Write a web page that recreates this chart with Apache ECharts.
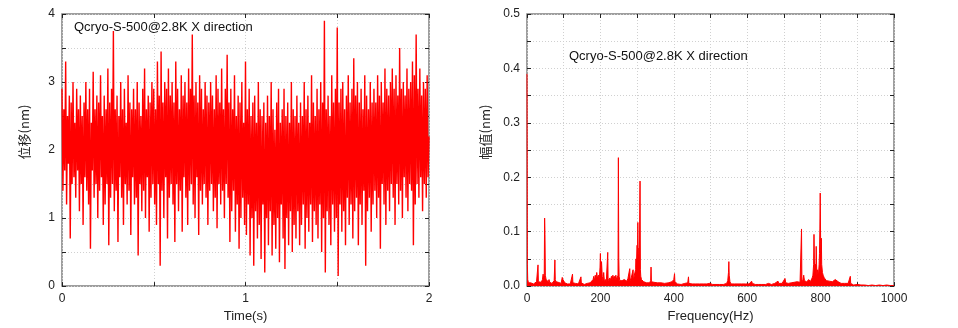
<!DOCTYPE html>
<html><head><meta charset="utf-8">
<script src="https://cdn.jsdelivr.net/npm/echarts@6/dist/echarts.min.js"></script>
<style>html,body{margin:0;padding:0;background:#fff}#c{width:958px;height:328px}</style>
</head><body><div id="c"></div>
<script>
// ---- data ----
const chartTitle = 'Qcryo-S-500@2.8K X direction';
const timeStep = 0.005; // seconds between samples
const displacement = [
2.9,1.4,2.6,1.7,3.3,1.2,2.5,1.8,2.8,0.7,2.7,1.5,3.0,1.6,2.4,1.3,2.9,1.7,2.6,1.1,
2.8,1.5,2.5,0.9,2.7,1.6,3.0,1.4,2.6,1.2,2.9,0.55,2.4,1.7,3.15,1.3,2.6,1.5,2.8,1.0,
2.7,1.4,3.1,1.6,2.5,0.9,2.8,1.2,2.6,1.5,3.2,0.6,2.7,1.3,2.9,1.5,3.75,1.1,2.6,1.4,
2.8,0.65,2.5,1.6,3.0,1.3,2.6,0.9,2.9,1.5,2.4,1.2,3.1,1.4,2.7,0.75,2.6,1.6,2.9,1.2,
2.6,1.3,3.0,0.45,2.7,1.5,2.5,1.1,2.9,1.4,3.2,1.0,2.6,1.6,2.8,0.8,2.7,1.3,3.0,1.5,
2.9,1.2,2.6,0.9,3.3,1.5,2.8,0.3,3.45,1.4,2.7,1.0,3.0,1.6,2.9,0.7,3.2,1.3,2.8,1.5,
3.0,1.2,2.7,0.65,3.3,1.5,2.9,1.1,2.6,1.4,3.1,0.8,2.8,1.6,3.0,1.3,2.7,0.9,3.2,1.4,
2.9,1.5,3.7,1.2,2.8,1.0,3.0,1.6,2.7,0.75,3.1,1.4,2.9,1.2,2.6,1.5,3.0,1.3,2.8,0.9,
2.7,1.4,3.0,1.5,2.8,1.1,2.6,1.3,3.1,0.85,2.9,1.5,2.7,1.2,3.2,1.4,2.6,1.0,2.9,1.5,
3.4,1.3,2.7,0.65,2.9,1.1,2.6,1.4,3.1,0.8,2.5,1.2,2.8,0.55,2.7,1.0,3.0,1.3,2.4,0.9,
3.3,0.75,2.6,1.2,2.9,0.45,2.5,1.0,2.7,0.3,2.8,1.1,2.4,0.7,3.0,0.9,2.6,0.4,2.5,1.2,
2.7,0.2,2.4,1.0,2.8,0.6,2.5,1.1,3.0,0.45,2.6,0.9,2.3,0.55,2.7,1.0,2.9,0.35,2.4,1.2,
2.6,0.7,2.9,0.25,2.5,1.0,2.7,0.6,2.4,1.1,3.0,0.5,2.6,0.9,2.5,0.7,2.8,1.1,2.4,0.6,
2.7,0.9,2.5,1.2,3.0,0.55,2.6,1.0,2.8,0.8,2.4,1.2,3.1,0.65,2.7,1.1,2.5,0.9,2.9,0.7,
2.6,1.2,3.0,0.5,2.7,1.0,3.9,0.2,2.6,1.1,2.8,0.9,2.5,0.6,3.1,1.2,2.7,0.8,2.9,1.0,
3.8,0.15,2.7,1.2,2.9,0.8,3.0,1.1,2.6,0.6,2.8,1.3,3.1,0.9,2.7,1.2,2.9,0.7,3.35,1.1,
2.8,1.3,3.0,0.6,2.7,1.2,2.9,0.9,2.6,1.4,3.1,0.3,2.8,1.1,2.6,1.3,3.0,0.8,2.7,1.2,
2.9,1.4,2.7,1.0,3.1,1.3,2.8,0.55,3.0,1.5,2.7,1.2,3.2,0.9,2.9,1.4,2.8,1.1,3.0,1.5,
3.2,1.3,2.9,0.9,3.1,1.5,2.8,1.2,3.5,1.4,2.9,1.0,3.0,1.6,2.8,1.3,3.2,1.1,2.9,1.5,
3.0,1.4,3.3,0.6,3.1,1.2,3.7,1.5,2.9,1.3,3.2,1.6,2.8,1.1,3.0,1.5,2.9,1.3,3.1,1.6,2.2
];
const spectrum = [
[0,0.39],[1,0.04],[2,0.012],[4,0.006],[6,0.008],[8,0.004],[10,0.006],[12,0.005],[15,0.007],[18,0.004],[20,0.006],[23,0.005],[26,0.008],[28,0.006],[30,0.039],[31,0.008],[33,0.006],[36,0.009],[39,0.007],[42,0.012],[44,0.022],[45,0.015],[47,0.02],[48,0.125],[49,0.095],[50,0.02],[52,0.012],[54,0.015],[56,0.01],[58,0.008],[60,0.012],[62,0.007],[65,0.006],[68,0.005],[70,0.007],[72,0.006],[74,0.01],[76,0.048],[77,0.012],[79,0.008],[82,0.006],[85,0.007],[88,0.005],[90,0.006],[93,0.005],[95,0.008],[96,0.016],[98,0.012],[100,0.01],[103,0.006],[106,0.005],[110,0.004],[114,0.005],[118,0.004],[121,0.006],[124,0.022],[125,0.006],[128,0.004],[132,0.005],[136,0.003],[140,0.004],[144,0.005],[147,0.017],[148,0.006],[152,0.004],[156,0.003],[160,0.004],[164,0.005],[168,0.004],[172,0.006],[176,0.008],[180,0.012],[182,0.018],[184,0.01],[186,0.02],[188,0.014],[190,0.025],[192,0.015],[195,0.02],[197,0.012],[199,0.035],[200,0.06],[201,0.02],[203,0.045],[205,0.018],[207,0.01],[209,0.025],[211,0.008],[214,0.012],[216,0.007],[218,0.01],[220,0.062],[221,0.01],[223,0.012],[226,0.015],[228,0.01],[230,0.018],[232,0.012],[234,0.02],[236,0.013],[238,0.018],[240,0.011],[242,0.02],[244,0.012],[246,0.014],[248,0.02],[249,0.236],[250,0.053],[251,0.018],[253,0.01],[256,0.008],[259,0.01],[262,0.007],[265,0.012],[268,0.01],[270,0.015],[272,0.009],[275,0.014],[278,0.012],[280,0.032],[281,0.01],[284,0.015],[287,0.012],[289,0.03],[290,0.01],[292,0.018],[294,0.025],[296,0.03],[297,0.05],[298,0.035],[300,0.075],[301,0.05],[302,0.117],[303,0.06],[304,0.045],[305,0.07],[306,0.04],[308,0.193],[309,0.03],[310,0.018],[312,0.012],[315,0.01],[318,0.008],[322,0.007],[326,0.006],[330,0.008],[334,0.006],[337,0.01],[338,0.035],[339,0.008],[342,0.006],[346,0.007],[350,0.005],[355,0.006],[360,0.004],[365,0.006],[370,0.004],[375,0.005],[380,0.004],[385,0.006],[390,0.005],[395,0.008],[398,0.01],[400,0.012],[402,0.023],[403,0.008],[406,0.005],[410,0.004],[415,0.005],[420,0.003],[425,0.004],[430,0.005],[435,0.004],[438,0.006],[440,0.017],[441,0.005],[445,0.003],[450,0.004],[455,0.003],[460,0.004],[465,0.003],[470,0.004],[475,0.003],[480,0.004],[485,0.003],[490,0.004],[495,0.003],[498,0.005],[500,0.007],[502,0.004],[506,0.003],[510,0.004],[515,0.003],[520,0.004],[525,0.003],[530,0.004],[535,0.003],[540,0.004],[544,0.005],[547,0.01],[549,0.025],[550,0.045],[551,0.02],[553,0.008],[556,0.004],[560,0.003],[565,0.004],[570,0.003],[575,0.004],[580,0.003],[585,0.004],[590,0.003],[595,0.004],[600,0.003],[605,0.004],[610,0.006],[612,0.009],[614,0.005],[618,0.004],[622,0.003],[626,0.004],[630,0.003],[635,0.004],[640,0.003],[645,0.004],[650,0.003],[655,0.004],[658,0.005],[660,0.007],[662,0.004],[666,0.003],[670,0.004],[675,0.005],[680,0.004],[684,0.009],[686,0.005],[690,0.004],[695,0.005],[700,0.006],[703,0.014],[705,0.006],[708,0.004],[712,0.005],[716,0.004],[720,0.006],[724,0.005],[728,0.007],[732,0.005],[736,0.008],[740,0.006],[744,0.007],[746,0.009],[748,0.105],[749,0.012],[751,0.008],[754,0.02],[756,0.01],[758,0.007],[762,0.008],[765,0.006],[768,0.012],[770,0.013],[772,0.008],[775,0.01],[777,0.015],[779,0.02],[781,0.04],[782,0.095],[783,0.05],[784,0.03],[786,0.04],[787,0.025],[788,0.073],[789,0.04],[790,0.02],[792,0.03],[794,0.018],[796,0.04],[797,0.06],[798,0.105],[799,0.171],[800,0.088],[801,0.06],[802,0.088],[803,0.04],[805,0.025],[807,0.02],[810,0.015],[813,0.012],[816,0.01],[820,0.012],[824,0.009],[828,0.01],[832,0.008],[836,0.01],[840,0.012],[844,0.01],[848,0.008],[852,0.006],[856,0.005],[860,0.004],[865,0.005],[870,0.004],[875,0.005],[879,0.006],[881,0.018],[882,0.005],[886,0.003],[890,0.002],[900,0.003],[910,0.002],[920,0.002],[930,0.001],[940,0.002],[950,0.001],[960,0.002],[970,0.001],[980,0.002],[990,0.001],[1000,0.001]
];
const leftXName = 'Time(s)', leftYName = '位移(nm)';
const rightXName = 'Frequency(Hz)', rightYName = '幅值(nm)';

// ---- chart ----
const timeSeries = displacement.map((v, i) => [i * timeStep, v]);
const font = 'Liberation Sans, Arial, sans-serif';
const cjk = 'Noto Sans CJK SC, sans-serif';
const frame = '#7f7f7f';
function axisPair(gridIndex, min, max, interval, name, nameGap, fmt, isY) {
  const tick = {show: true, inside: true, length: 4, lineStyle: {color: '#222', width: 1}};
  const minor = {show: true, splitNumber: 2, length: 4, lineStyle: {color: '#222', width: 1}};
  const main = {
    type: 'value', gridIndex, min, max, interval,
    position: isY ? 'left' : 'bottom',
    name, nameLocation: 'middle', nameGap,
    nameTextStyle: isY
      ? {fontFamily: cjk, fontSize: 13, color: '#222', padding: [0, 0, 0, 36]}
      : {fontFamily: font, fontSize: 13, color: '#222'},
    axisLine: {show: false, onZero: false},
    axisTick: tick,
    minorTick: minor,
    axisLabel: {fontFamily: font, fontSize: 12, color: '#222', margin: 7, formatter: fmt},
    splitLine: {show: true, lineStyle: {color: '#d0d0d0', type: [1, 2], width: 1}},
    minorSplitLine: {show: true, lineStyle: {color: '#d0d0d0', type: [1, 2], width: 1}}
  };
  const mirror = {
    type: 'value', gridIndex, min, max, interval,
    position: isY ? 'right' : 'top',
    axisLine: {show: false, onZero: false},
    axisTick: tick, minorTick: minor,
    axisLabel: {show: false}, splitLine: {show: false}
  };
  return [main, mirror];
}
const chart = echarts.init(document.getElementById('c'), null, {renderer: 'canvas'});
const lx = axisPair(0, 0, 2, 1, leftXName, 23, v => String(v), false);
const ly = axisPair(0, 0, 4, 1, leftYName, 31, v => String(v), true);
const rx = axisPair(1, 0, 1000, 200, rightXName, 23, v => String(v), false);
const ry = axisPair(1, 0, 0.5, 0.1, rightYName, 35, v => v.toFixed(1), true);
chart.setOption({
  animation: false,
  backgroundColor: '#fff',
  grid: [
    {left: 62, right: 529, top: 14, bottom: 41, show: true, borderColor: frame, borderWidth: 1.5, backgroundColor: 'transparent', z: 0},
    {left: 527, right: 64, top: 14, bottom: 41, show: true, borderColor: frame, borderWidth: 1.5, backgroundColor: 'transparent', z: 0}
  ],
  xAxis: [lx[0], lx[1], rx[0], rx[1]],
  yAxis: [ly[0], ly[1], ry[0], ry[1]],
  title: [
    {text: chartTitle, left: 69, top: 16, textStyle: {fontFamily: font, fontSize: 13, fontWeight: 'normal', color: '#111'}},
    {text: chartTitle, left: 564, top: 45, textStyle: {fontFamily: font, fontSize: 13, fontWeight: 'normal', color: '#111'}}
  ],
  series: [
    {type: 'line', xAxisIndex: 0, yAxisIndex: 0, data: timeSeries, showSymbol: false, symbol: 'none',
     lineStyle: {color: '#ff0000', width: 1.4}, z: 3},
    {type: 'line', xAxisIndex: 2, yAxisIndex: 2, data: spectrum, showSymbol: false, symbol: 'none',
     lineStyle: {color: '#ff0000', width: 1}, areaStyle: {color: '#ff0000', opacity: 1}, z: 3}
  ]
});
</script></body></html>
